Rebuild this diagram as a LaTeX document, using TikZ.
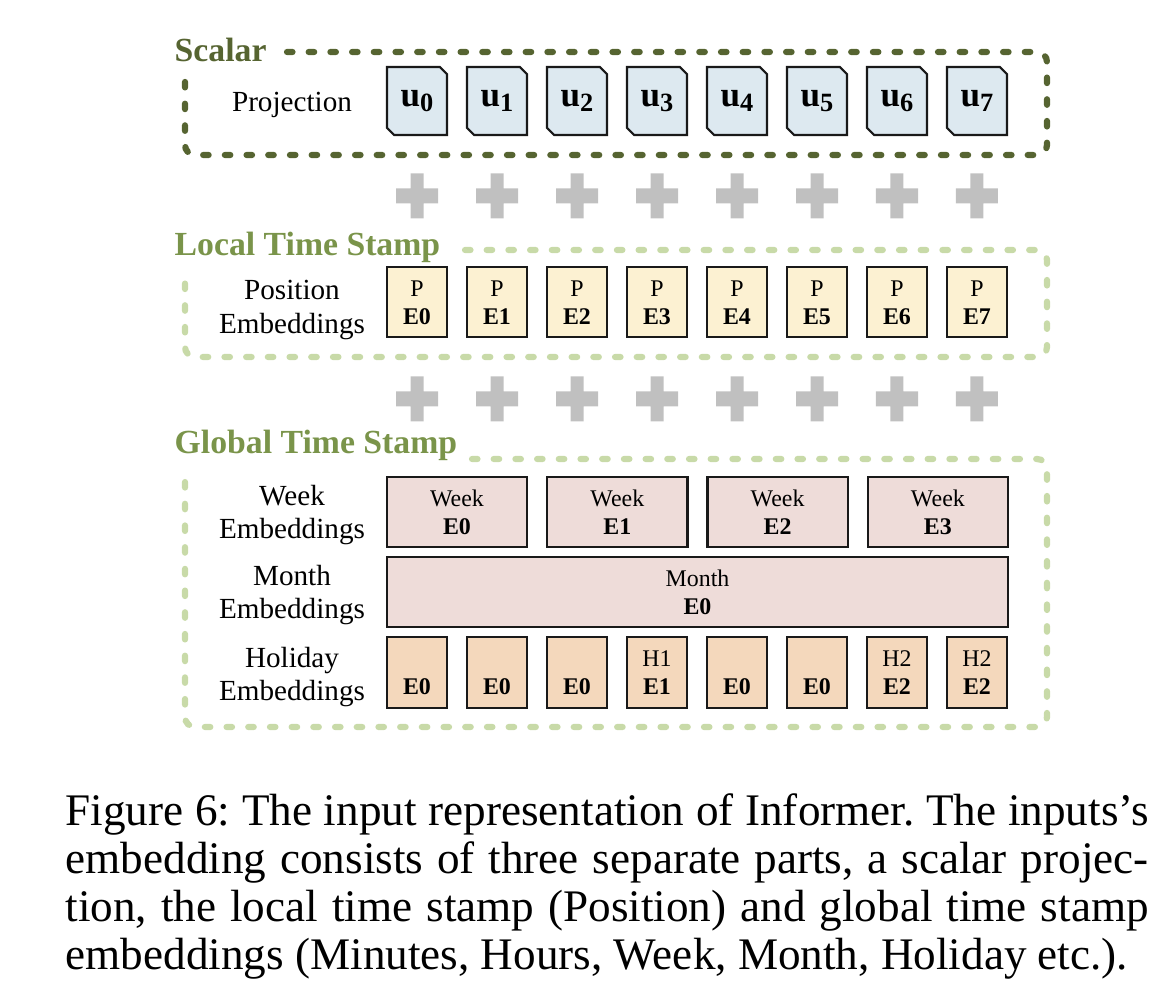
\documentclass[tikz,border=0pt]{standalone}
\usepackage{fontspec}
\setmainfont{Liberation Serif}
\usetikzlibrary{positioning, backgrounds}

\definecolor{scalarolive}{HTML}{566431}
\definecolor{stampolive}{HTML}{7A944A}
\definecolor{stampdash}{HTML}{C8DAA8}
\definecolor{projblue}{HTML}{DDE9F0}
\definecolor{posyellow}{HTML}{FCF1D2}
\definecolor{weekpink}{HTML}{EEDCD9}
\definecolor{holipeach}{HTML}{F4D8BC}
\definecolor{plusgray}{HTML}{C0C0C0}

\newcommand{\bstrut}{\rule[-1.7pt]{0pt}{8pt}}
\newcommand{\boxtext}[2]{\bstrut#1\\\bstrut\textbf{#2}}
\newcommand{\uname}[1]{\textbf{u}\raisebox{-0.3ex}{\fontsize{7.5}{8}\selectfont\textbf{#1}}}
\newcommand{\plussign}[1]{\fill[plusgray] (#1) +(-21,-7.5) rectangle +(21,7.5) +(-6.5,-22.5) rectangle +(6.5,22.5);}

\begin{document}
\begin{tikzpicture}[x=0.1mm, y=-0.1mm,
  hdr/.style={anchor=base west, inner sep=0pt, font=\fontsize{9.6}{11}\selectfont\bfseries},
  lbl/.style={align=center, inner sep=0pt, font=\fontsize{8.3}{9.4}\selectfont},
  cell/.style={draw=black!90, line width=0.6pt, inner sep=0pt, outer sep=0pt, align=center,
    minimum width=6mm, minimum height=7mm, font=\fontsize{6.8}{8}\selectfont},
  ucell/.style={inner sep=0pt, outer sep=0pt, minimum width=6mm, minimum height=6.8mm,
    font=\fontsize{10}{12}\selectfont},
  uedge/.style={draw=black!90, line width=0.6pt, fill=projblue},
  pcell/.style={cell, fill=posyellow},
  wcell/.style={cell, fill=weekpink, minimum width=14.03mm},
  hcell/.style={cell, fill=holipeach, minimum height=7.1mm},
  frame/.style={line width=0.62mm, line cap=round, dash pattern=on 0.55mm off 1.62mm, rounded corners=1mm}]
\useasboundingbox (0,0) rectangle (1176,1004);

% Scalar projection
\node[hdr, text=scalarolive] (scalarhdr) at (174,62) {Scalar};
\draw[frame, scalarolive] (287,52) -- (1047,52) -- (1047,155) -- (185,155) -- (185,77);
\node[lbl] (projlbl) at (292,105) {Projection};
\node[ucell] (u0) at (417,101) {\uname{0}};
\foreach \i [remember=\i as \prev (initially 0)] in {1,...,7}
  \node[ucell, right=2mm of u\prev] (u\i) {\uname{\i}};
% chamfered outlines behind the u's
\begin{scope}[on background layer]
\foreach \i in {0,...,7}
  \filldraw[uedge] (u\i.north west) -- ([xshift=-2pt]u\i.north east) -- ([yshift=-2pt]u\i.north east)
    -- (u\i.south east) -- ([xshift=2pt]u\i.south west) -- ([yshift=2pt]u\i.south west) -- cycle;
\end{scope}

% Plus signs between the parts
\foreach \i in {0,...,7} {
  \coordinate (plusa\i) at (u\i |- 0,196);
  \coordinate (plusb\i) at (u\i |- 0,399);
  \plussign{plusa\i}
  \plussign{plusb\i}
}

% Local time stamp
\node[hdr, text=stampolive] (localhdr) at (174,256) {Local Time Stamp};
\draw[frame, stampdash] (465,250) -- (1047,250) -- (1047,357) -- (185,357) -- (185,270);
\node[lbl] (poslbl) at (292,310) {Position\\Embeddings};
\node[pcell] (p0) at (417,302) {\boxtext{P}{E0}};
\foreach \i [remember=\i as \prev (initially 0)] in {1,...,7}
  \node[pcell, right=2mm of p\prev] (p\i) {\boxtext{P}{E\i}};

% Global time stamp
\node[hdr, text=stampolive] (globalhdr) at (174,454) {Global Time Stamp};
\draw[frame, stampdash] (472,459) -- (1047,459) -- (1047,727) -- (185,727) -- (185,472);

% Week
\node[lbl] (weeklbl) at (292,515) {Week\\Embeddings};
\node[wcell] (w0) at (457,512) {\boxtext{Week}{E0}};
\foreach \i [remember=\i as \prev (initially 0)] in {1,2,3}
  \node[wcell, right=2mm of w\prev] (w\i) {\boxtext{Week}{E\i}};

% Month
\node[lbl] (monthlbl) at (292,595) {Month\\Embeddings};
\node[cell, fill=weekpink, minimum width=62.1mm] (m0) at (697.5,592) {\boxtext{Month}{E0}};

% Holiday
\node[lbl] (holilbl) at (292,677) {Holiday\\Embeddings};
\node[hcell] (h0) at (417,672.5) {\boxtext{}{E0}};
\foreach \htop/\hbot [count=\i, remember=\i as \prev (initially 0)] in {/E0,/E0,H1/E1,/E0,/E0,H2/E2,H2/E2}
  \node[hcell, right=2mm of h\prev] (h\i) {\boxtext{\htop}{\hbot}};

% Caption
\node[anchor=north west, inner sep=0pt, text width=10.83cm, align=justify,
  font=\fontsize{12.85}{13.65}\selectfont\frenchspacing] (caption) at (65,793)
  {Figure 6: The input representation of Informer. The inputs’s\linebreak
   embedding consists of three separate parts, a scalar projec-\linebreak
   tion, the local time stamp (Position) and global time stamp\linebreak
   embeddings (Minutes, Hours, Week, Month, Holiday etc.).};
\end{tikzpicture}
\end{document}
